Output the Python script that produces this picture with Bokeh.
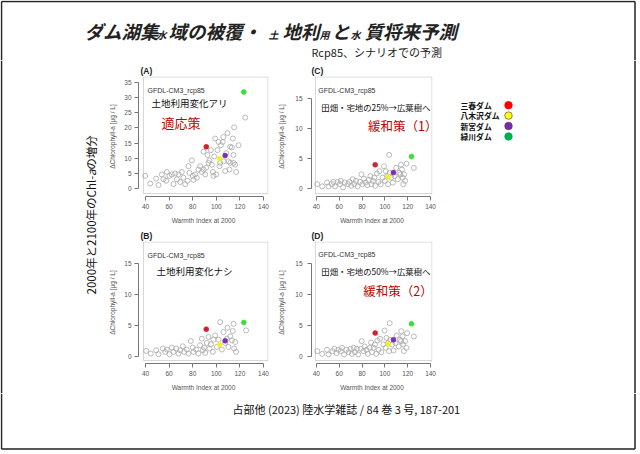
import numpy as np
from bokeh.plotting import figure
from bokeh.models import Range1d, FixedTicker, BoxAnnotation, Label
from bokeh.layouts import row, column
from bokeh.embed import file_html
from bokeh.resources import INLINE
from bokeh.core.properties import value

# ---------------- data ----------------
dam_names = ["三春ダム", "八木沢ダム", "新宮ダム", "緑川ダム"]
dam_colors_plot = ["#d4202a", "#f0f030", "#7a2fb8", "#3cdc3c"]
dam_colors_legend = ["#ff0000", "#ffff00", "#7030a0", "#00b050"]
dam_wi = [91.5, 102.8, 107.5, 123.3]
dam_dchl_A = [13.8, 9.9, 10.9, 31.8]
dam_dchl_B = [4.4, 1.9, 2.5, 5.5]
dam_dchl_C = [4.0, 2.0, 2.7, 5.4]
dam_dchl_D = [3.8, 2.0, 2.7, 5.3]

other_wi_A = [39.7, 44.0, 49.0, 51.0, 53.8, 55.3, 57.5, 58.1, 60.3, 62.3, 63.7, 65.1, 66.6, 68.0,
              69.4, 70.8, 72.2, 73.6, 75.6, 76.4, 77.3, 79.3, 80.1, 80.7, 82.1, 83.5, 84.9, 86.3,
              87.7, 89.2, 89.2, 90.6, 91.4, 92.5, 93.4, 94.2, 95.4, 96.2, 97.1, 97.6, 98.2, 99.0,
              99.9, 101.0, 101.9, 102.7, 103.3, 103.8, 105.5, 106.0, 106.1, 107.5, 108.4, 109.5,
              110.3, 111.2, 111.8, 111.8, 113.2, 114.0, 114.6, 114.6, 115.1, 116.0, 116.8, 118.8, 124.5]
other_dchl_A = [4.2, 1.7, 3.3, 1.2, 4.7, 3.1, 2.6, 5.5, 4.2, 4.7, 1.5, 5.0, 3.1, 4.7,
                2.2, 5.5, 3.6, 1.5, 2.6, 7.4, 5.2, 9.3, 4.2, 2.9, 4.7, 3.6, 6.3, 7.4,
                5.5, 12.2, 6.3, 4.7, 6.9, 11.1, 8.5, 9.3, 12.7, 7.9, 5.5, 4.2, 10.6, 16.5,
                4.7, 12.7, 15.4, 7.4, 8.5, 14.3, 15.4, 17.0, 9.0, 5.8, 11.7, 18.3,
                9.0, 6.3, 13.8, 8.5, 13.6, 16.5, 8.5, 11.1, 20.2, 7.9, 5.5, 14.3, 23.4]

other_wi_B = [40.6, 44.5, 49.0, 51.0, 54.7, 56.7, 58.1, 60.3, 62.3, 63.7, 66.0, 68.0, 69.4, 71.6,
              72.8, 75.0, 76.4, 78.4, 80.1, 80.7, 82.9, 84.9, 86.3, 87.7, 88.6, 89.7, 90.6, 92.0,
              93.4, 94.2, 95.4, 97.1, 97.6, 99.0, 100.5, 101.9, 103.3, 104.7, 106.1, 107.5, 108.9,
              109.5, 110.3, 111.8, 113.2, 114.0, 115.1, 116.0, 116.8, 114.6, 125.3]
other_dchl_B = [0.86, 0.43, 0.97, 0.32, 1.24, 0.70, 1.08, 0.32, 1.40, 0.70, 1.24, 0.43, 0.97, 1.61,
                0.70, 1.08, 0.43, 2.47, 1.40, 0.70, 1.08, 0.43, 1.77, 2.85, 0.97, 1.40, 0.54, 2.15,
                3.12, 1.24, 1.94, 0.70, 2.69, 3.39, 1.51, 2.69, 5.54, 1.08, 3.92, 2.15, 2.85,
                4.62, 1.51, 3.23, 2.58, 4.09, 1.24, 2.31, 0.70, 5.27, 4.19]

other_wi_C = [40.8, 45.1, 49.3, 50.7, 53.5, 54.9, 56.3, 58.6, 60.6, 61.4, 63.4, 64.8, 67.6, 69.0,
              70.4, 71.8, 73.2, 74.6, 76.1, 78.3, 79.4, 80.3, 81.7, 83.1, 84.5, 85.9, 87.3, 88.2,
              89.6, 90.7, 91.5, 93.0, 94.4, 95.2, 96.3, 98.0, 99.2, 100.0, 100.8, 102.0, 102.8,
              103.7, 104.2, 105.6, 107.0, 108.5, 109.9, 111.3, 112.7, 113.5, 114.1, 114.9, 115.5,
              116.1, 116.9, 117.7, 118.9, 125.4]
other_dchl_C = [0.76, 0.38, 1.03, 0.38, 0.76, 1.14, 0.38, 1.14, 0.76, 1.30, 0.22, 1.03, 0.76, 1.14,
                0.49, 1.58, 0.76, 1.30, 0.38, 1.14, 2.39, 0.76, 1.68, 1.03, 0.60, 1.47, 2.12, 0.76,
                1.30, 1.85, 0.49, 2.55, 1.14, 2.93, 0.76, 1.85, 3.75, 1.30, 2.93, 2.12, 0.76,
                5.65, 2.66, 1.85, 1.03, 2.12, 3.48, 1.58, 2.66, 2.39, 4.02, 3.21, 1.85,
                0.76, 2.39, 1.30, 4.18, 3.48]

other_wi_D = [40.8, 45.1, 49.3, 50.7, 54.1, 55.8, 57.7, 59.2, 61.4, 62.5, 64.2, 66.2, 68.2, 69.9,
              71.0, 72.7, 73.8, 75.5, 76.6, 78.9, 79.7, 81.1, 82.3, 83.9, 85.1, 86.8, 87.9, 88.7,
              90.1, 91.3, 92.4, 93.5, 94.6, 95.8, 96.9, 98.6, 99.7, 100.6, 101.4, 102.5, 103.7,
              104.2, 104.8, 106.5, 107.6, 109.3, 110.4, 112.1, 113.2, 114.1, 114.4, 115.5, 116.1,
              116.6, 117.7, 118.9, 119.4, 125.4]
other_dchl_D = [0.86, 0.43, 1.08, 0.32, 0.86, 1.24, 0.54, 1.08, 0.86, 1.40, 0.32, 1.08, 0.70, 1.24,
                0.43, 1.40, 0.70, 1.24, 0.32, 1.24, 2.47, 0.86, 1.61, 1.08, 0.43, 1.40, 2.26, 0.70,
                1.40, 1.94, 0.43, 2.58, 1.08, 2.85, 0.70, 1.94, 4.19, 1.40, 3.01, 2.15, 0.86,
                5.38, 2.69, 1.94, 0.97, 2.15, 3.39, 1.61, 2.69, 2.47, 4.09, 3.23, 1.94,
                0.86, 2.47, 1.40, 3.76, 3.23]

x_ticks = [40, 60, 80, 100, 120, 140]
y_ticks_A = [0, 5, 10, 15, 20, 25, 30, 35]
y_ticks_BCD = [0, 5, 10, 15]

panel_tags = {"A": "(A)", "B": "(B)", "C": "(C)", "D": "(D)"}
x_label = "Warmth Index at 2000"
y_label = "ΔChlorophyll-a [μg / L]"
model_label = "GFDL-CM3_rcp85"

CJK = "Noto Sans CJK JP"
LAT = "Liberation Sans"
O = 2  # page position of the layout's top-left corner

# ---------------- helpers ----------------
def canvas(w, h):
    p = figure(width=w, height=h, x_range=Range1d(0, w), y_range=Range1d(h, 0),
               x_axis_type=None, y_axis_type=None, toolbar_location=None,
               output_backend="svg", min_border=0)
    p.outline_line_color = None
    p.background_fill_color = "white"
    p.border_fill_color = "white"
    return p


def frame_lines(p, xs0, ys0, xs1, ys1):
    p.segment(x0=xs0, y0=ys0, x1=xs1, y1=ys1, line_color="#222", line_width=1.5)


def make_panel(key, wi, dchl, dam_y, yticks, g, notes):
    fw = g["w"] - g["ml"] - g["mr"]
    fh = g["h"] - g["mt"] - g["mb"]
    x0 = 40 - g["tx0"] / g["sx"]
    x1 = x0 + fw / g["sx"]
    y0 = -g["ty0"] / g["sy"]
    y1 = y0 + fh / g["sy"]
    fl = g["left"] + g["ml"]
    fb = g["top"] + g["h"] - g["mb"]

    def d(px, py):
        return x0 + (px - fl) / g["sx"], y0 + (fb - py) / g["sy"]

    p = figure(width=g["w"], height=g["h"], x_range=Range1d(x0, x1), y_range=Range1d(y0, y1),
               min_border_left=g["ml"], min_border_right=g["mr"],
               min_border_top=g["mt"], min_border_bottom=g["mb"],
               toolbar_location=None, output_backend="svg", title=panel_tags[key])
    p.outline_line_color = None
    p.grid.visible = False
    p.background_fill_color = "white"
    p.border_fill_color = "white"

    p.title.align = "left"
    p.title.offset = g["to"]
    p.title.standoff = 1
    p.title.text_font = LAT
    p.title.text_font_size = "8.5px"
    p.title.text_font_style = "bold"
    p.title.text_color = "#222"

    p.xaxis.ticker = FixedTicker(ticks=x_ticks)
    p.yaxis.ticker = FixedTicker(ticks=yticks)
    p.xaxis.bounds = (x_ticks[0], x_ticks[-1])
    p.yaxis.bounds = (yticks[0], yticks[-1])
    for ax in (p.xaxis, p.yaxis):
        ax.axis_line_color = "#777"
        ax.major_tick_line_color = "#777"
        ax.minor_tick_line_color = None
        ax.major_tick_out = 4
        ax.major_tick_in = 0
        ax.major_label_text_font = LAT
        ax.major_label_text_font_size = "6.5px"
        ax.major_label_text_color = "#555"
        ax.axis_label_text_font = LAT
        ax.axis_label_text_font_size = "6.5px"
        ax.axis_label_text_font_style = "normal"
        ax.axis_label_text_color = "#555"
    p.xaxis.axis_label = x_label
    p.yaxis.axis_label = y_label
    p.xaxis.major_label_standoff = 3
    p.xaxis.axis_label_standoff = 5
    p.yaxis.major_label_standoff = g["mls"]
    p.yaxis.axis_label_standoff = g["als"]

    bl, bb = d(fl + g["bx"], fb - g["by"])
    p.add_layout(BoxAnnotation(left=bl, bottom=bb, right=x1 - 0.5 / g["sx"], top=y1 - 0.5 / g["sy"],
                               fill_color=None, line_color="#777", line_width=1))

    p.scatter(wi, dchl, marker="circle", size=5, fill_color=None,
              line_color="#a9a9a9", line_width=0.8)
    p.scatter(dam_wi, dam_y, marker="circle", size=5, fill_color=dam_colors_plot,
              line_color=dam_colors_plot, line_width=0.5)

    for text, px, py, size, color, font in notes:
        lx, ly = d(px, py)
        p.add_layout(Label(x=lx, y=ly, text=text, text_font=font, text_font_size=size,
                           text_color=color, text_baseline="middle", text_align="left"))
    return p


G = {
    "A": dict(left=105, top=62, w=172, h=166, ml=35, mr=7, mt=16, mb=27, tx0=7, sx=1.18,
              ty0=8, sy=3.114, bx=5, by=3, mls=3, als=5, to=2),
    "B": dict(left=105, top=228, w=172, h=167, ml=35, mr=7, mt=15, mb=30, tx0=7, sx=1.18,
              ty0=7.3, sy=6.15, bx=5, by=3, mls=3, als=5, to=2),
    "C": dict(left=277, top=62, w=173, h=166, ml=33, mr=16, mt=16, mb=27, tx0=5, sx=1.17,
              ty0=8, sy=6.13, bx=4, by=3, mls=5, als=7, to=0),
    "D": dict(left=277, top=228, w=173, h=167, ml=33, mr=16, mt=15, mb=30, tx0=5, sx=1.17,
              ty0=7, sy=6.2, bx=4, by=3, mls=5, als=7, to=0),
}
RED = "#c00000"
notes_A = [(model_label, 149, 92, "7px", "#333", LAT),
           ("土地利用変化アリ", 153, 105, "9.5px", "#111", CJK),
           ("適応策", 163, 125, "13px", RED, CJK)]
notes_B = [(model_label, 149, 257, "7px", "#333", LAT),
           ("土地利用変化ナシ", 158, 272, "9.5px", "#111", CJK)]
notes_C = [(model_label, 317, 92, "7px", "#333", LAT),
           ("田畑・宅地の25%→広葉樹へ", 320, 109, "8.4px", "#111", CJK),
           ("緩和策（1）", 368, 128, "12.5px", RED, CJK)]
notes_D = [(model_label, 317, 256, "7px", "#333", LAT),
           ("田畑・宅地の50%→広葉樹へ", 320, 272, "8.4px", "#111", CJK),
           ("緩和策（2）", 363, 292, "12.5px", RED, CJK)]

pA = make_panel("A", other_wi_A, other_dchl_A, dam_dchl_A, y_ticks_A, G["A"], notes_A)
pB = make_panel("B", other_wi_B, other_dchl_B, dam_dchl_B, y_ticks_BCD, G["B"], notes_B)
pC = make_panel("C", other_wi_C, other_dchl_C, dam_dchl_C, y_ticks_BCD, G["C"], notes_C)
pD = make_panel("D", other_wi_D, other_dchl_D, dam_dchl_D, y_ticks_BCD, G["D"], notes_D)

# ---------------- title ----------------
TW, TH = 636, 60
title_fig = canvas(TW, TH)
title_parts = [("ダム湖集", 86, True), ("水", 158, False), ("域の被覆・", 170, True),
               ("土", 270, False), ("地利", 284, True), ("用", 321, False), ("と", 333, True),
               ("水", 352, False), ("質将来予測", 366, True)]
for txt, px, big in title_parts:
    title_fig.text(x=[px - O], y=[(32 if big else 36) - O], text=[txt],
                   text_font=value(CJK), text_font_size=value("18.5px" if big else "10px"),
                   text_font_style=value("bold italic"), text_color="#222",
                   text_align="left", text_baseline="middle")
title_fig.text(x=[313 - O], y=[53 - O], text=["Rcp85、シナリオでの予測"],
               text_font=value(CJK), text_font_size=value("11px"), text_color="#222",
               text_align="left", text_baseline="middle")
frame_lines(title_fig, [1, 1, 634.5], [1, 1, 1], [634.5, 1, 634.5], [1, TH, 1])
title_fig.segment(x0=[634.5], y0=[1], x1=[634.5], y1=[TH], line_color="#222", line_width=1.5)

# ---------------- left label ----------------
LW, MH = 103, 333
left_fig = canvas(LW, MH)
lab_parts = [("2000年と2100年のChl-", 296, "normal"), ("a", 177.5, "italic"), ("の増分", 171.2, "normal")]
for txt, py, style in lab_parts:
    left_fig.text(x=[92 - O], y=[py - 62], text=[txt], angle=np.pi / 2,
                  text_font=value(CJK), text_font_size=value("11.5px"),
                  text_font_style=value(style), text_color="#111",
                  text_align="left", text_baseline="middle")
frame_lines(left_fig, [1], [0], [1], [MH])

# ---------------- legend ----------------
LGW = 188
leg_fig = canvas(LGW, MH)
leg_y = [106.7 - 62 + 10.4 * i for i in range(len(dam_names))]
leg_fig.text(x=[462 - 450] * len(dam_names), y=leg_y, text=dam_names, text_font=value(CJK),
             text_font_size=value("7.8px"), text_font_style=value("bold"), text_color="#111",
             text_align="left", text_baseline="middle")
leg_fig.scatter(x=[510 - 450] * len(dam_names), y=leg_y, marker="circle", size=7.5,
                fill_color=dam_colors_legend, line_color=["#ff0000", "#666", "#7030a0", "#00b050"],
                line_width=0.8)
frame_lines(leg_fig, [634.5 - 448], [0], [634.5 - 448], [MH])

# ---------------- citation ----------------
CH = 57
cite_fig = canvas(TW, CH)
cite_fig.text(x=[234 - O], y=[410 - 395], text=["占部他 (2023) 陸水学雑誌 / 84 巻 3 号, 187-201"],
              text_font=value(CJK), text_font_size=value("11px"), text_color="#111",
              text_align="left", text_baseline="middle")
frame_lines(cite_fig, [1, 634.5, 1], [0, 0, 450.5 - 395], [1, 634.5, 634.5], [450.5 - 395, 450.5 - 395, 450.5 - 395])

layout = column(title_fig,
                row(left_fig, column(pA, pB), column(pC, pD), leg_fig),
                cite_fig)

open("out.html", "w").write(file_html(layout, INLINE))
